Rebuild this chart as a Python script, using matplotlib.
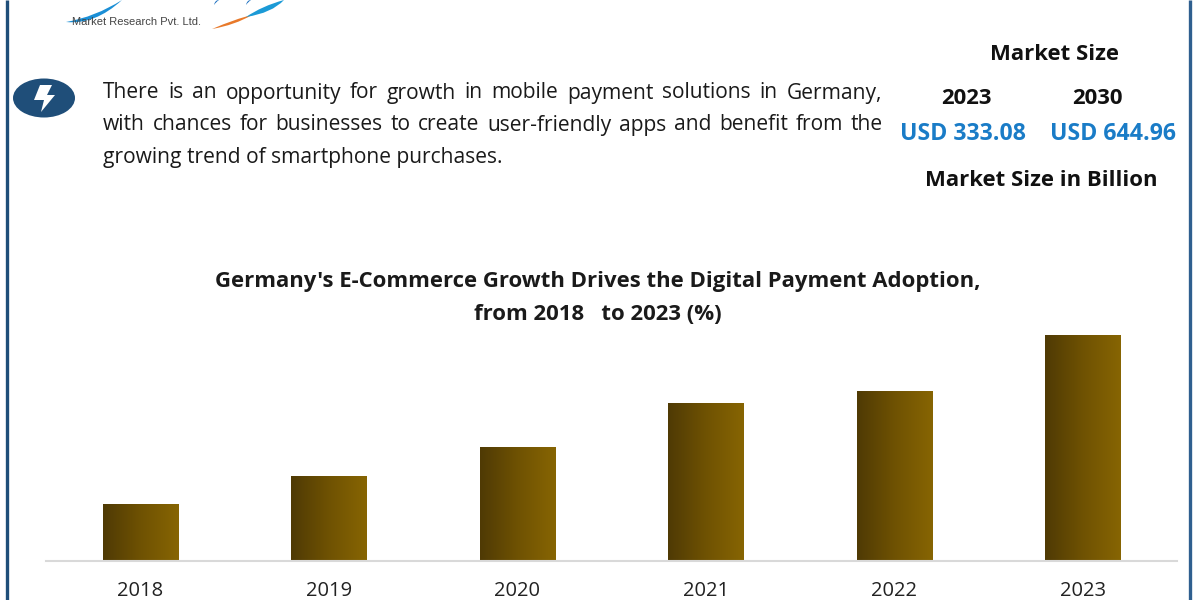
import numpy as np
import matplotlib
matplotlib.use("Agg")
import matplotlib.pyplot as plt
from matplotlib.colors import LinearSegmentedColormap
from matplotlib.patches import Ellipse, Polygon, PathPatch
from matplotlib.path import Path

years = ["2018", "2019", "2020", "2021", "2022", "2023"]
growth = [5.6, 8.4, 11.3, 15.7, 16.9, 22.5]
title_lines = ["Germany's E-Commerce Growth Drives the Digital Payment Adoption,", "from 2018   to 2023 (%)"]
body_lines = ["There is an opportunity for growth in mobile payment solutions in Germany,",
              "with chances for businesses to create user-friendly apps and benefit from the",
              "growing trend of smartphone purchases."]
size_years = ["2023", "2030"]
size_values = ["USD 333.08", "USD 644.96"]

FONT = "Open Sans"
plt.rcParams["font.family"] = [FONT, "DejaVu Sans"]
fig = plt.figure(figsize=(12, 6), dpi=100, facecolor="white")

# page layer in pixel coordinates
bg = fig.add_axes([0, 0, 1, 1])
bg.set_xlim(0, 1200); bg.set_ylim(600, 0); bg.axis("off")
NAVY = "#1f4e79"
bg.plot([6.5, 6.5], [0, 600], color=NAVY, lw=2.4, solid_capstyle="butt")
bg.plot([1189.5, 1189.5], [0, 600], color="#2f5f8f", lw=2.4, solid_capstyle="butt")

# logo remnants
def swoosh(p0, c, p1, c2, color):
    verts = [p0, c, p1, c2, p0]
    codes = [Path.MOVETO, Path.CURVE3, Path.CURVE3, Path.CURVE3, Path.CURVE3]
    bg.add_patch(PathPatch(Path(verts, codes), fc=color, ec="none"))
swoosh((66, 22), (95, 25), (122, 0), (95, 17), "#1b8fd6")
swoosh((212, 29), (235, 25), (252, 15), (235, 19), "#e8792a")
swoosh((246, 17), (272, 13), (284, 0), (262, 6), "#1b9ad6")
swoosh((214, 5), (216, 2), (219, 0), (215, 0), "#1b6fc0")
swoosh((246, 5), (248, 2), (251, 0), (247, 0), "#1b6fc0")
bg.text(72, 22, "Market Research Pvt. Ltd.", fontsize=8, color="#444444",
        va="center", ha="left", family="Liberation Sans", zorder=5)

# bolt icon
bg.add_patch(Ellipse((44, 98), 62, 39, fc=NAVY, ec="none"))
bg.add_patch(Polygon([(40, 85), (52, 85), (47, 95), (55, 95), (41, 112), (44, 100), (34, 100)],
                     closed=True, fc="white", ec="none"))

# justified body text
BODY = 15.1
renderer = fig.canvas.get_renderer()
def justified(line, x0, x1, y, size):
    words = line.split(" ")
    ts = [bg.text(0, y, w, fontsize=size, color="#1a1a1a", va="center", ha="left") for w in words]
    inv = bg.transData.inverted()
    widths = []
    for t in ts:
        bb = t.get_window_extent(renderer)
        widths.append(inv.transform((bb.x1, 0))[0] - inv.transform((bb.x0, 0))[0])
    gap = (x1 - x0 - sum(widths)) / (len(words) - 1)
    x = x0
    for t, w in zip(ts, widths):
        t.set_x(x)
        x += w + gap
justified(body_lines[0], 103, 882, 93, BODY)
justified(body_lines[1], 103, 883, 125, BODY)
bg.text(103, 157, body_lines[2], fontsize=BODY, color="#1a1a1a", va="center", ha="left")

# market size panel
bg.text(1054, 55, "Market Size", fontsize=15.9, fontweight="bold", color="#111111", ha="center", va="center")
for x, vx, yr, val in zip([966, 1097], [962.5, 1113], size_years, size_values):
    bg.text(x, 98, yr, fontsize=15.9, fontweight="bold", color="#111111", ha="center", va="center")
    bg.text(vx, 134, val, fontsize=16.7, fontweight="bold", color="#1a7cc7", ha="center", va="center")
bg.text(1041, 180, "Market Size in Billion", fontsize=15.9, fontweight="bold", color="#111111", ha="center", va="center")

# chart title
bg.text(598, 282, title_lines[0], fontsize=15.9, fontweight="bold", color="#1a1a1a", ha="center", va="center")
bg.text(598, 314, title_lines[1], fontsize=15.9, fontweight="bold", color="#1a1a1a", ha="center", va="center")

# chart
left, right, top, base = 46, 1177, 335, 560.5
ax = fig.add_axes([left / 1200, (600 - base) / 600, (right - left) / 1200, (base - top) / 600])
ax.patch.set_alpha(0)
x = np.arange(len(years))
bars = ax.bar(x, growth, width=0.4, color="none")
cmap = LinearSegmentedColormap.from_list("brown", ["#4f3a05", "#6f5202", "#876503"])
grad = np.linspace(0, 1, 256).reshape(1, -1)
for r in bars:
    ax.imshow(grad, extent=[r.get_x(), r.get_x() + r.get_width(), 0, r.get_height()],
              cmap=cmap, aspect="auto", zorder=2)
ax.set_xlim(-0.5, 5.5)
ax.set_ylim(0, max(growth))
ax.set_xticks(x, years)
ax.tick_params(axis="x", length=0, pad=15, labelsize=14.5, labelcolor="#222222")
ax.set_yticks([])
for s in ["top", "left", "right"]:
    ax.spines[s].set_visible(False)
ax.spines["bottom"].set_color("#d9d9d9")
ax.spines["bottom"].set_linewidth(1.5)
ax.set_xlim(-0.5, 5.5)
fig.savefig("out.png", dpi=100)
